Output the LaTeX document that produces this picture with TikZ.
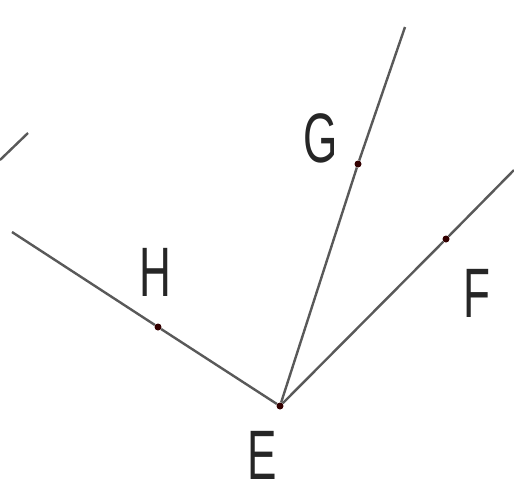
\documentclass[tikz,border=0pt]{standalone}
\usepackage{fontspec}
\setmainfont{Liberation Sans}
\begin{document}
\begin{tikzpicture}[x=1pt,y=-1pt,
  ray/.style={draw=black!65,line width=2.4pt},
  pt/.style={circle,fill=black!80!red,inner sep=0pt,minimum size=7pt},
  lab/.style={inner sep=0pt,text=black!85,font=\fontsize{70}{70}\selectfont}]
\useasboundingbox (0,0) rectangle (514,491);
\coordinate (L) at (12,232);
\coordinate (Gend) at (405,27);
\coordinate (Fend) at (514,170);
\coordinate (S1) at (0,160);
\coordinate (S2) at (28,133);
\node[pt] (E) at (280,406) {};
\node[pt] (H) at (158,327) {};
\node[pt] (G) at (358,164) {};
\node[pt] (F) at (446,239) {};
\draw[ray] (L) -- (H) -- (E);
\draw[ray] (E) -- (G) -- (Gend);
\draw[ray] (E) -- (F) -- (Fend);
\draw[ray] (S1) -- (S2);
\node[lab] (tE) at (262,455) {\scalebox{0.63}[1]{E}};
\node[lab] (tH) at (155,272) {\scalebox{0.63}[1]{H}};
\node[lab] (tG) at (321,138) {\scalebox{0.63}[1]{G}};
\node[lab] (tF) at (477,293) {\scalebox{0.63}[1]{F}};
\end{tikzpicture}
\end{document}
